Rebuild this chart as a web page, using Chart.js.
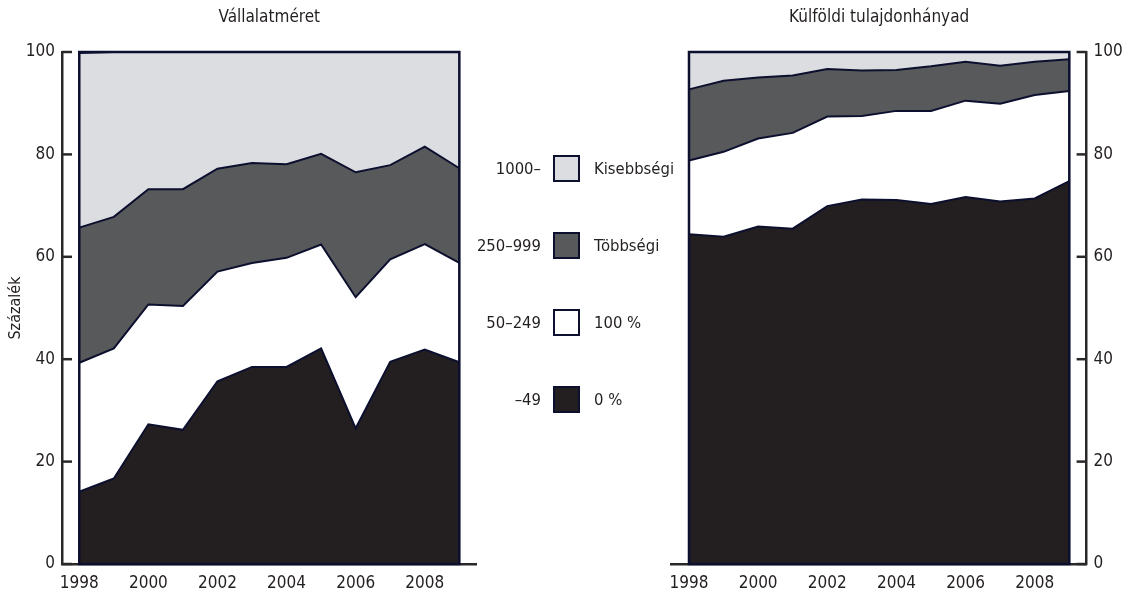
<!DOCTYPE html>
<html>
<head>
<meta charset="utf-8">
<script src="https://cdn.jsdelivr.net/npm/chart.js@4.4.1/dist/chart.umd.min.js"></script>
<style>
  body { margin: 0; width: 1132px; height: 595px; background: #fff; position: relative; overflow: hidden;
         font-family: "DejaVu Sans Condensed", "Liberation Sans Narrow", sans-serif; color: #231f20; }
  #left { position: absolute; left: 0; top: 0; }
  #right { position: absolute; left: 600px; top: 0; }
  #legend { position: absolute; left: 0; top: 0; z-index: 2; }
  .lab { position: absolute; font-size: 16.5px; line-height: 27px; white-space: nowrap; }
  .box { position: absolute; width: 27px; height: 27px; box-sizing: border-box; border: 2.5px solid #0c0f2e; }
</style>
</head>
<body>
<canvas id="left" width="520" height="595"></canvas>
<canvas id="right" width="532" height="595"></canvas>
<div id="legend"></div>
<script>
var years = [1998, 1999, 2000, 2001, 2002, 2003, 2004, 2005, 2006, 2007, 2008, 2009];
var xTicks = [1998, 2000, 2002, 2004, 2006, 2008];

// Vállalatméret (létszám-kategóriák), %
var sizeLabels = ['–49', '50–249', '250–999', '1000–'];
var size49 = [14.1, 16.7, 27.3, 26.2, 35.7, 38.5, 38.5, 42.1, 26.5, 39.5, 41.9, 39.4];
var size249 = [25.2, 25.4, 23.4, 24.2, 21.4, 20.3, 21.3, 20.3, 25.6, 20.0, 20.6, 19.4];
var size999 = [26.4, 25.7, 22.5, 22.8, 20.1, 19.5, 18.3, 17.7, 24.4, 18.4, 19.0, 18.5];
var size1000 = [34.1, 32.2, 26.8, 26.8, 22.8, 21.7, 21.9, 19.9, 23.5, 22.1, 18.5, 22.7];

// Külföldi tulajdonhányad, %
var ownLabels = ['0 %', '100 %', 'Többségi', 'Kisebbségi'];
var own0 = [64.4, 63.9, 65.9, 65.5, 69.9, 71.2, 71.1, 70.3, 71.7, 70.8, 71.4, 74.8];
var own100 = [14.4, 16.6, 17.2, 18.7, 17.5, 16.3, 17.4, 18.2, 18.8, 19.1, 20.2, 17.6];
var ownMajor = [13.9, 13.9, 11.9, 11.2, 9.3, 8.9, 8.0, 8.7, 7.6, 7.4, 6.5, 6.2];
var ownMinor = [7.3, 5.6, 5.0, 4.6, 3.3, 3.6, 3.5, 2.8, 1.9, 2.7, 1.9, 1.4];

var colors = ['#231f20', '#ffffff', '#58595b', '#dcdde0'];
var navy = '#0c0f2e';
var axisCol = '#2b2829';
var fontFam = '"DejaVu Sans Condensed", "Liberation Sans Narrow", sans-serif';

function pts(vals) {
    return vals.map(function (v, i) { return { x: years[i], y: v }; });
}

function makeSets(series, labels) {
    return series.map(function (s, i) {
        return {
            label: labels[i],
            data: pts(s),
            backgroundColor: colors[i],
            borderColor: navy,
            borderWidth: 2,
            pointRadius: 0,
            tension: 0,
            fill: i === 0 ? 'origin' : '-1'
        };
    });
}

// title centred above the plot area, inward tick marks, outline of the filled block
var decor = {
    id: 'decor',
    afterDatasetsDraw: function (chart, args, opts) {
        var ctx = chart.ctx, xs = chart.scales.x, ys = chart.scales.y;
        ctx.save();
        ctx.strokeStyle = navy;
        ctx.lineWidth = 2.5;
        var x0 = xs.getPixelForValue(years[0]), x1 = xs.getPixelForValue(years[years.length - 1]);
        var yTop = ys.getPixelForValue(100), yBot = ys.getPixelForValue(0);
        ctx.strokeRect(x0, yTop, x1 - x0, yBot - yTop);
        ctx.restore();
    },
    afterDraw: function (chart, args, opts) {
        var ctx = chart.ctx, ys = chart.scales.y, a = chart.chartArea;
        ctx.save();
        ctx.strokeStyle = axisCol;
        ctx.lineWidth = 2.5;
        var xa = opts.side === 'left' ? a.left : a.right;
        var dir = opts.side === 'left' ? 1 : -1;
        ys.ticks.forEach(function (t) {
            var py = ys.getPixelForValue(t.value);
            ctx.beginPath();
            ctx.moveTo(xa, py);
            ctx.lineTo(xa + dir * 10, py);
            ctx.stroke();
        });
        ctx.fillStyle = '#231f20';
        ctx.font = '17px ' + fontFam;
        ctx.textAlign = 'center';
        ctx.textBaseline = 'middle';
        ctx.fillText(opts.title, (a.left + a.right) / 2, 18);
        ctx.restore();
    }
};

function makeOptions(side, title, padLeft, padRight, yWidth, yTitle) {
    return {
        responsive: false,
        animation: false,
        layout: { padding: { top: 52, left: padLeft, right: padRight, bottom: 0 } },
        plugins: {
            legend: { display: false },
            tooltip: { enabled: false },
            decor: { side: side, title: title }
        },
        scales: {
            x: {
                type: 'linear',
                min: 1997.5,
                max: 2009.5,
                grid: { display: false, drawTicks: false },
                border: { display: true, color: axisCol, width: 2.5 },
                afterBuildTicks: function (s) { s.ticks = xTicks.map(function (v) { return { value: v }; }); },
                afterFit: function (s) { s.height = 31; },
                ticks: {
                    padding: 9,
                    color: '#231f20',
                    font: { size: 17, family: fontFam },
                    maxRotation: 0,
                    callback: function (v) { return String(v); }
                }
            },
            y: {
                position: side,
                stacked: true,
                min: 0,
                max: 100,
                grid: { display: false, drawTicks: false },
                border: { display: true, color: axisCol, width: 2.5 },
                afterFit: function (s) { s.width = yWidth; },
                ticks: {
                    stepSize: 20,
                    padding: 7,
                    color: '#231f20',
                    font: { size: 17, family: fontFam }
                },
                title: {
                    display: !!yTitle,
                    text: yTitle || '',
                    color: '#231f20',
                    font: { size: 16, family: fontFam },
                    padding: { top: 6, bottom: 0 }
                }
            }
        }
    };
}

new Chart(document.getElementById('left'), {
    type: 'line',
    data: { datasets: makeSets([size49, size249, size999, size1000], sizeLabels) },
    options: makeOptions('left', 'Vállalatméret', 0, 43.4, 62, 'Százalék'),
    plugins: [decor]
});

new Chart(document.getElementById('right'), {
    type: 'line',
    data: { datasets: makeSets([own0, own100, ownMajor, ownMinor], ownLabels) },
    options: makeOptions('right', 'Külföldi tulajdonhányad', 71.7, 0, 45.4, ''),
    plugins: [decor]
});

// shared legend between the two panels, top row = top layer
var legend = document.getElementById('legend');
for (var i = 3; i >= 0; i--) {
    var cy = 168 + (3 - i) * 77;
    var l = document.createElement('div');
    l.className = 'lab';
    l.style.left = '400px'; l.style.width = '141px'; l.style.textAlign = 'right';
    l.style.top = (cy - 13.5) + 'px';
    l.textContent = sizeLabels[i];
    var b = document.createElement('div');
    b.className = 'box';
    b.style.left = '553px'; b.style.top = (cy - 13.5) + 'px';
    b.style.background = colors[i];
    var r = document.createElement('div');
    r.className = 'lab';
    r.style.left = '594px'; r.style.top = (cy - 13.5) + 'px';
    r.textContent = ownLabels[i];
    legend.appendChild(l); legend.appendChild(b); legend.appendChild(r);
}
</script>
</body>
</html>
